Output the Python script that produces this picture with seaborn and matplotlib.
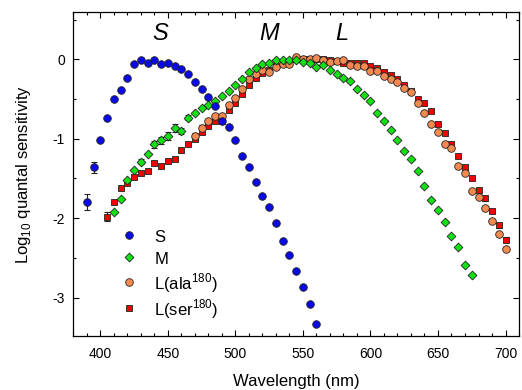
import matplotlib
matplotlib.use('Agg')
import matplotlib.pyplot as plt
from matplotlib.ticker import MultipleLocator
import seaborn as sns
import pandas as pd

# S cone (blue)
s_wl = list(range(390, 565, 5))
s_val = [-1.80, -1.36, -1.02, -0.735, -0.50, -0.39, -0.24, -0.055, -0.013, -0.047,
         -0.013, -0.055, -0.047, -0.088, -0.12, -0.19, -0.29, -0.37, -0.48, -0.59,
         -0.78, -0.85, -1.02, -1.22, -1.35, -1.54, -1.72, -1.86, -2.06, -2.29,
         -2.46, -2.67, -2.87, -3.08, -3.33]

# M cone (green)
m_wl = list(range(410, 680, 5))
m_val = [-1.92, -1.76, -1.52, -1.39, -1.29, -1.19, -1.07, -1.02, -0.97, -0.87,
         -0.90, -0.735, -0.68, -0.61, -0.57, -0.52, -0.465, -0.40, -0.32, -0.245,
         -0.16, -0.11, -0.06, -0.045, -0.01, -0.01, -0.01, -0.01, -0.035, -0.05,
         -0.09, -0.065, -0.14, -0.19, -0.23, -0.27, -0.37, -0.45, -0.53, -0.67,
         -0.78, -0.89, -1.01, -1.15, -1.26, -1.40, -1.59, -1.77, -1.90, -2.05,
         -2.23, -2.36, -2.59, -2.72]

# L(ala180) (orange)
ala_wl = list(range(470, 705, 5))
ala_val = [-0.97, -0.865, -0.77, -0.715, -0.715, -0.58, -0.49, -0.375, -0.25, -0.185,
           -0.14, -0.16, -0.095, -0.055, -0.055, 0.03, 0.0, 0.005, 0.02, -0.01,
           -0.03, -0.02, -0.01, -0.07, -0.08, -0.085, -0.145, -0.145, -0.205, -0.25,
           -0.28, -0.365, -0.415, -0.545, -0.68, -0.82, -0.91, -1.06, -1.11, -1.34,
           -1.43, -1.66, -1.735, -1.87, -2.03, -2.20, -2.39]

# L(ser180) (red)
ser_wl = list(range(405, 705, 5))
ser_val = [-1.98, -1.80, -1.62, -1.56, -1.48, -1.43, -1.40, -1.31, -1.34, -1.28,
           -1.26, -1.14, -1.07, -1.00, -0.91, -0.84, -0.78, -0.77, -0.64, -0.555,
           -0.44, -0.32, -0.24, -0.17, -0.14, -0.08, -0.05, -0.03, 0.0, 0.01,
           0.0, 0.0, 0.01, -0.01, -0.02, -0.04, -0.05, -0.05, -0.05, -0.08,
           -0.11, -0.16, -0.20, -0.25, -0.32, -0.40, -0.50, -0.555, -0.65, -0.82,
           -0.925, -1.07, -1.22, -1.35, -1.49, -1.64, -1.75, -1.91, -2.09, -2.27]

# error bars (only a few points have visible ones)
s_err_wl = [390, 395]
s_err = [0.10, 0.07]
m_err_wl = [430, 440, 445, 450, 455, 460, 465]
m_err = [0.03, 0.04, 0.04, 0.05, 0.05, 0.04, 0.03]
ala_err_wl = [470, 475]
ala_err = [0.04, 0.04]
ser_err_wl = [405, 685, 690, 695, 700]
ser_err = [0.06, 0.03, 0.03, 0.03, 0.03]

sns.set_style("ticks")
plt.rcParams['font.family'] = ['Liberation Sans', 'DejaVu Sans']
plt.rcParams['axes.unicode_minus'] = False
plt.rcParams['mathtext.fontset'] = 'custom'
plt.rcParams['mathtext.rm'] = 'Liberation Sans'
for k in ['text.color', 'axes.labelcolor', 'xtick.color', 'ytick.color', 'axes.edgecolor']:
    plt.rcParams[k] = 'black'

fig = plt.figure(figsize=(5.22, 3.9), dpi=100)
ax = fig.add_axes([0.1404, 0.1392, 0.8539, 0.8293])

series = [
    ("L(ser$^{180}$)", ser_wl, ser_val, ser_err_wl, ser_err, "#f20000", "s", 24),
    ("L(ala$^{180}$)", ala_wl, ala_val, ala_err_wl, ala_err, "#f58a50", "o", 30),
    ("M", m_wl, m_val, m_err_wl, m_err, "#12e012", "D", 20),
    ("S", s_wl, s_val, s_err_wl, s_err, "#0a0ae6", "o", 30),
]

for name, wl, val, ewl, err, col, mk, sz in series:
    ey = [val[wl.index(w)] for w in ewl]
    ax.errorbar(ewl, ey, yerr=err, fmt='none', ecolor='#222222', elinewidth=0.8,
                capsize=2, capthick=0.8, zorder=1)
    df = pd.DataFrame({'wl': wl, 'val': val})
    sns.scatterplot(data=df, x='wl', y='val', ax=ax, color=col, marker=mk, s=sz,
                    edgecolor='#222222', linewidth=0.6, label=name, zorder=2)

handles, labels = ax.get_legend_handles_labels()
order = [3, 2, 1, 0]
ax.legend([handles[i] for i in order], [labels[i] for i in order],
          loc='upper left', bbox_to_anchor=(0.107, 0.336), frameon=False,
          fontsize=12, handlelength=1.0, handletextpad=1.0, labelspacing=0.16,
          handleheight=1.42, borderpad=0, borderaxespad=0)

ax.text(444, 0.33, "S", fontsize=17, style='italic', ha='center', va='center')
ax.text(525, 0.33, "M", fontsize=17, style='italic', ha='center', va='center')
ax.text(579, 0.33, "L", fontsize=17, style='italic', ha='center', va='center')

ax.set_xlim(380, 710)
ax.set_ylim(-3.48, 0.593)
ax.xaxis.set_major_locator(MultipleLocator(50))
ax.xaxis.set_minor_locator(MultipleLocator(10))
ax.yaxis.set_major_locator(MultipleLocator(1))
ax.yaxis.set_minor_locator(MultipleLocator(0.5))
ax.tick_params(which='both', direction='in', top=True, right=True, width=0.8)
ax.tick_params(which='major', length=4, labelsize=10)
ax.tick_params(which='minor', length=2.5)
ax.tick_params(axis='x', which='major', pad=8)
ax.tick_params(axis='y', which='major', pad=6)
for sp in ax.spines.values():
    sp.set_linewidth(0.9)

ax.set_xlabel("Wavelength (nm)", fontsize=12, labelpad=9.5)
ax.set_ylabel("Log$_{10}$ quantal sensitivity", fontsize=12, labelpad=14)

fig.savefig("out.png", dpi=100)
